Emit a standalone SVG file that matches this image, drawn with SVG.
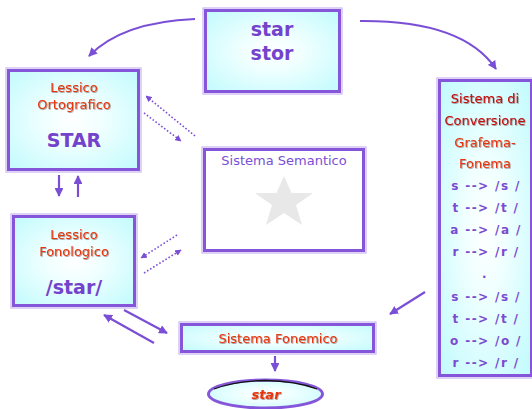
<svg xmlns="http://www.w3.org/2000/svg" width="532" height="409" viewBox="0 0 532 409">
<defs>
  <radialGradient id="cy" cx="50%" cy="50%" r="65%">
    <stop offset="0" stop-color="#ffffff"/>
    <stop offset="0.35" stop-color="#f0ffff"/>
    <stop offset="1" stop-color="#c6fbfd"/>
  </radialGradient>
  <marker id="ah" viewBox="0 0 10 10" refX="9" refY="5" markerWidth="4" markerHeight="4" orient="auto">
    <path d="M0,0 L10,5 L0,10 z" fill="#7a4fd6"/>
  </marker>
  <filter id="sh" x="-10%" y="-10%" width="120%" height="130%">
    <feDropShadow dx="0.7" dy="0.8" stdDeviation="0.15" flood-color="#3a0000" flood-opacity="0.45"/>
  </filter>
</defs>
<style>
  .box { fill: url(#cy); stroke: #8556d9; stroke-width: 3; }
  .outer { fill: none; stroke: #c9b6f2; stroke-width: 1.2; }
  .wbox { fill: #ffffff; stroke: #8556d9; stroke-width: 3; }
  .t { font-family: "Comic Sans MS", "DejaVu Sans", sans-serif; text-anchor: middle; }
  .red { fill: #e8360c; font-size: 13px; filter: url(#sh); }
  .dred { fill: #c40808; font-size: 13px; filter: url(#sh); }
  .pur { fill: #7443cc; font-weight: bold; }
  .map { fill: #7a4bd0; font-weight: bold; font-size: 12px; letter-spacing: 1.4px; }
  .con { fill: none; stroke: #7a4fd6; stroke-width: 2.2; }
  .dot { fill: none; stroke: #7a4fd6; stroke-width: 1.6; stroke-dasharray: 1.6 2; }
</style>

<g id="connectors">
  <path class="con" d="M195,19 Q122,22 89,56" marker-end="url(#ah)"/>
  <path class="con" d="M360,21 Q463,20 496,69" marker-end="url(#ah)"/>
  <path class="dot" d="M195,136 L146,96" marker-end="url(#ah)"/>
  <path class="dot" d="M144,113 L181,141" marker-end="url(#ah)"/>
  <path class="dot" d="M177,235 L141,258" marker-end="url(#ah)"/>
  <path class="dot" d="M144,273 L181,250" marker-end="url(#ah)"/>
  <path class="con" d="M59,175 L59,196" marker-end="url(#ah)"/>
  <path class="con" d="M78,197 L78,176" marker-end="url(#ah)"/>
  <path class="con" d="M124,310 L167,333" marker-end="url(#ah)"/>
  <path class="con" d="M154,343 L104,315" marker-end="url(#ah)"/>
  <path class="con" d="M425,292 L390,314" marker-end="url(#ah)"/>
  <path class="con" d="M275,356 L275,371" marker-end="url(#ah)"/>
</g>

<g id="input">
  <rect class="outer" x="203" y="8" width="139" height="86"/>
  <rect class="box" x="205.5" y="10.5" width="134" height="81"/>
  <text class="t pur" x="272" y="36" font-size="19">star</text>
  <text class="t pur" x="272" y="60" font-size="19">stor</text>
</g>

<g id="lessico-ortografico">
  <rect class="outer" x="6" y="68" width="135" height="104"/>
  <rect class="box" x="8.5" y="70.5" width="130" height="99"/>
  <text class="t red" x="74" y="92">Lessico</text>
  <text class="t red" x="74" y="109">Ortografico</text>
  <text class="t pur" x="74" y="147" font-size="19">STAR</text>
</g>

<g id="lessico-fonologico">
  <rect class="outer" x="11" y="214" width="126" height="94"/>
  <rect class="box" x="13.5" y="216.5" width="121" height="89"/>
  <text class="t red" x="74" y="239">Lessico</text>
  <text class="t red" x="74" y="256">Fonologico</text>
  <text class="t pur" x="74" y="294" font-size="19">/star/</text>
</g>

<g id="sistema-semantico">
  <rect class="outer" x="202" y="147" width="164" height="106"/>
  <rect class="wbox" x="204.5" y="149.5" width="159" height="101"/>
  <text class="t" x="284" y="165" font-size="13" fill="#7a4fd6">Sistema Semantico</text>
  <polygon fill="#e8e8e8" points="284,176 291.5,193 313,193 296,205 302,225 284,213 266,225 272,205 255,193 276.5,193"/>
</g>

<g id="conversione">
  <rect class="outer" x="437" y="78" width="96" height="300"/>
  <rect class="box" x="439.5" y="80.5" width="92" height="295"/>
  <text class="t dred" x="485" y="103">Sistema di</text>
  <text class="t dred" x="485" y="125">Conversione</text>
  <text class="t red" x="485" y="147">Grafema-</text>
  <text class="t red" x="485" y="168">Fonema</text>
  <text class="t map" x="486" y="190">s --&gt; /s /</text>
  <text class="t map" x="486" y="212">t --&gt; /t /</text>
  <text class="t map" x="486" y="234">a --&gt; /a /</text>
  <text class="t map" x="486" y="256">r --&gt; /r /</text>
  <text class="t map" x="485" y="278" font-size="8">.</text>
  <text class="t map" x="486" y="301">s --&gt; /s /</text>
  <text class="t map" x="486" y="323">t --&gt; /t /</text>
  <text class="t map" x="486" y="345">o --&gt; /o /</text>
  <text class="t map" x="486" y="367">r --&gt; /r /</text>
</g>

<g id="sistema-fonemico">
  <rect class="outer" x="179" y="322" width="197" height="32"/>
  <rect class="box" x="181.5" y="324.5" width="192" height="27"/>
  <text class="t red" x="278" y="343">Sistema Fonemico</text>
</g>

<g id="output">
  <ellipse cx="265.5" cy="394" rx="57" ry="14" fill="url(#cy)" stroke="#8556d9" stroke-width="3"/>
  <path d="M214,389 Q235,381 265,380.5 Q296,381 317,389" fill="none" stroke="#111" stroke-width="1.3"/>
  <text class="t red" x="266" y="399" font-style="italic" font-weight="bold">star</text>
</g>
</svg>
